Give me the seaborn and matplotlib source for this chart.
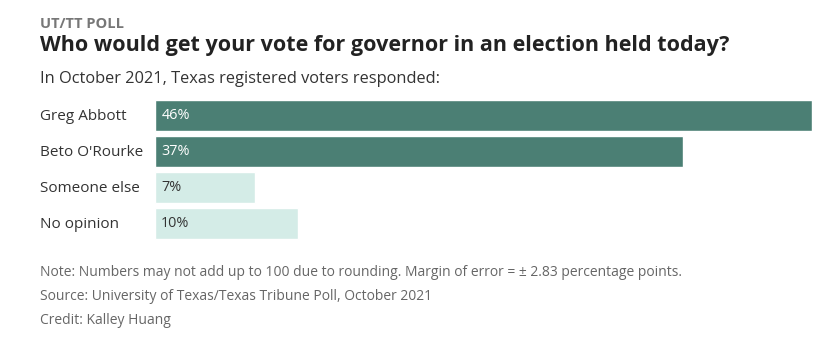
import matplotlib
matplotlib.use("Agg")
import matplotlib.pyplot as plt
import seaborn as sns
import pandas as pd

categories = ["Greg Abbott", "Beto O'Rourke", "Someone else", "No opinion"]
values = [46, 37, 7, 10]
bar_colors = ["#4b7f74", "#4b7f74", "#d4ece7", "#d4ece7"]
label_colors = ["white", "white", "#333333", "#333333"]

kicker = "UT/TT POLL"
title = "Who would get your vote for governor in an election held today?"
subtitle = "In October 2021, Texas registered voters responded:"
notes = [
    "Note: Numbers may not add up to 100 due to rounding. Margin of error = \u00b1 2.83 percentage points.",
    "Source: University of Texas/Texas Tribune Poll, October 2021",
    "Credit: Kalley Huang",
]

sns.set_theme(style="white")
plt.rcParams["font.family"] = ["Open Sans", "DejaVu Sans"]

W, H = 839, 342
fig = plt.figure(figsize=(W / 100, H / 100), dpi=100)
fig.patch.set_facecolor("white")

def fx(px):
    return px / W

def fy(py):
    return 1 - py / H

ax_left, ax_right = 155, 812
ax_top, ax_bot = 97.5, 241.5
ax = fig.add_axes([fx(ax_left), fy(ax_bot), fx(ax_right - ax_left), (ax_bot - ax_top) / H])

df = pd.DataFrame({"cat": categories, "val": values})
sns.barplot(data=df, x="val", y="cat", hue="cat", palette=bar_colors,
            order=categories, hue_order=categories, width=0.86,
            legend=False, ax=ax, saturation=1)

ax.set_xlim(0, max(values))
ax.set_ylim(len(categories) - 0.5, -0.5)
ax.set_xlabel("")
ax.set_ylabel("")
ax.set_xticks([])
ax.set_yticks([])
for s in ax.spines.values():
    s.set_visible(False)

for i, (v, c) in enumerate(zip(values, label_colors)):
    ax.annotate(f"{v}%", xy=(0, i), xytext=(4.5, 0), textcoords="offset points",
                ha="left", va="center", color=c, fontsize=10.4)
    fig.text(fx(40), fy(ax_top + 19 + 36 * i), categories[i], ha="left", va="center",
             fontsize=11, color="#333333")

fig.text(fx(40), fy(28), kicker, fontsize=10.5, fontweight="bold", color="#777777", va="baseline")
fig.text(fx(40), fy(51), title, fontsize=15.5, fontweight="bold", color="#222222", va="baseline")
fig.text(fx(40), fy(83), subtitle, fontsize=11.8, color="#333333", va="baseline")

for j, n in enumerate(notes):
    fig.text(fx(40), fy(273 + 24 * j), n, fontsize=10, color="#666666", va="center")

fig.savefig("out.png", dpi=100, facecolor="white")
